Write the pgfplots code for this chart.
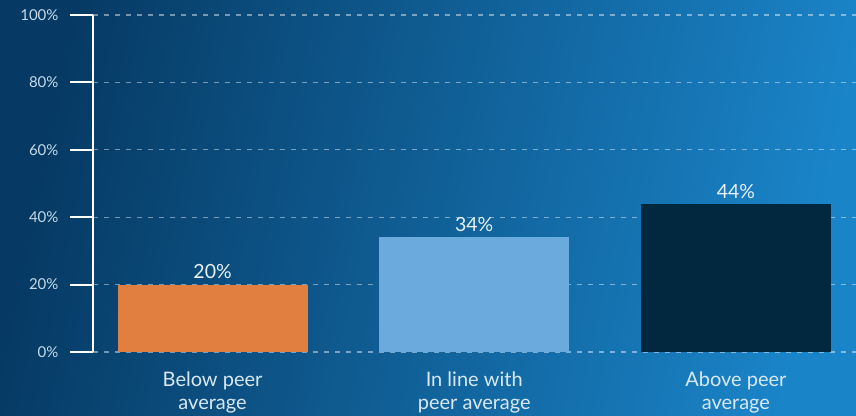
\documentclass[border=0pt]{standalone}
\usepackage{pgfplots}
\pgfplotsset{compat=1.18}
\usepackage{fontspec}
\setmainfont{Lato}
\definecolor{bgA}{HTML}{063A64}
\definecolor{bgM}{HTML}{0667AC}
\definecolor{bgB}{HTML}{1A84C8}
\definecolor{barOrange}{HTML}{E07F3F}
\definecolor{barLight}{HTML}{6BAADC}
\definecolor{barNavy}{HTML}{02283F}
\definecolor{tickTxt}{HTML}{C5DAEA}
\definecolor{catTxt}{HTML}{D8E8F4}
\definecolor{valTxt}{HTML}{E8F1F8}
\begin{document}
\begin{tikzpicture}
\shade[top color=bgA, middle color=bgM, bottom color=bgB, shading angle=78] (-93pt,-63pt) rectangle (763pt,352pt);
\path[use as bounding box] (-93pt,-63pt) rectangle (763pt,352pt);
\begin{axis}[
  at={(0pt,0pt)}, anchor=south west,
  scale only axis, width=763pt, height=337pt,
  xmin=-0.457, xmax=2.459, ymin=0, ymax=100,
  /pgf/number format/assume math mode=true,
  axis y line*=left, axis x line*=bottom,
  x axis line style={draw=none},
  y axis line style={white, line width=1.8pt},
  ytick={0,20,40,60,80,100},
  yticklabel={\pgfmathprintnumber{\tick}\%},
  yticklabel style={font=\fontsize{15pt}{17pt}\selectfont, text=tickTxt, xshift=-8pt},
  ytick style={white, line width=1.8pt},
  major tick length=23pt, tick align=outside,
  ymajorgrids,
  grid style={color=white, opacity=0.45, line width=1.1pt, dash pattern=on 5pt off 6pt},
  xtick={0,1,2},
  xtick style={draw=none},
  xticklabels={{Below peer\\average},{In line with\\peer average},{Above peer\\average}},
  xticklabel style={align=center, font=\fontsize{20pt}{23pt}\selectfont, text=catTxt, yshift=7pt},
  ybar, bar width=190pt,
  nodes near coords={\pgfmathprintnumber{\pgfplotspointmeta}\%},
  every node near coord/.append style={font=\fontsize{19.5pt}{21pt}\selectfont, text=valTxt, yshift=2pt},
  clip=false,
]
\addplot[fill=barOrange, draw=none, bar shift=0pt] coordinates {(0,20)};
\addplot[fill=barLight, draw=none, bar shift=0pt] coordinates {(1,34)};
\addplot[fill=barNavy, draw=none, bar shift=0pt] coordinates {(2,44)};
\end{axis}
\end{tikzpicture}
\end{document}
